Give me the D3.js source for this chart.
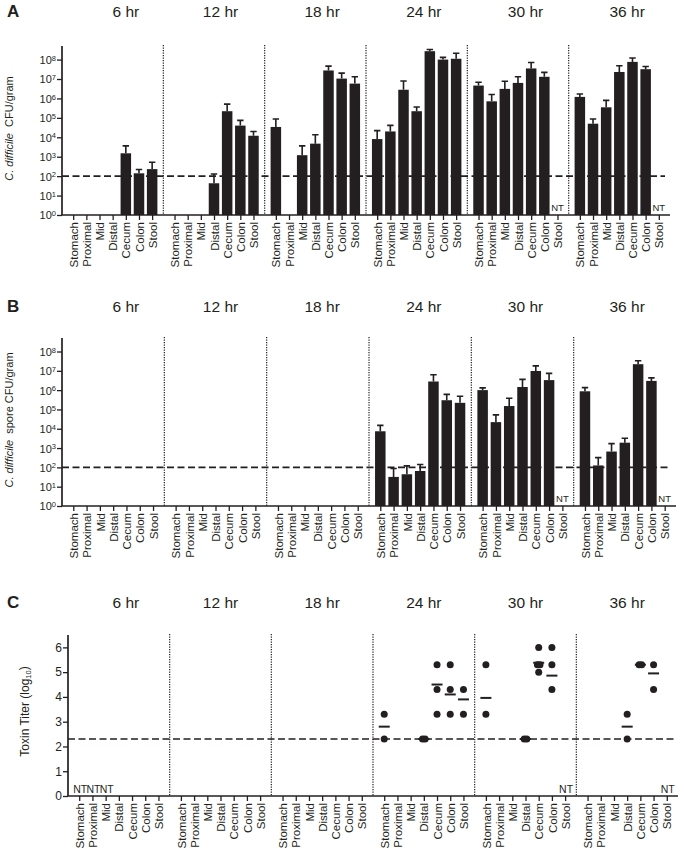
<!DOCTYPE html>
<html><head><meta charset="utf-8">
<script src="https://cdn.jsdelivr.net/npm/d3@7"></script>
<style>
body{margin:0;background:#fff}
svg{display:block}
text{font-family:"Liberation Sans",Arial,Helvetica,sans-serif;fill:#231f20}
</style>
</head><body>
<svg id="chart" width="680" height="851"></svg>
<script>
// ---------------- DATA ----------------
const times = ["6 hr","12 hr","18 hr","24 hr","30 hr","36 hr"];
const sites = ["Stomach","Proximal","Mid","Distal","Cecum","Colon","Stool"];
const logTickExps = [0,1,2,3,4,5,6,7,8];
const toxinTicks = [0,1,2,3,4,5,6];
const cfuLimit = 100;
const toxinLimit = 2.3;

// Panel A: C. difficile CFU/gram (mean and top of error bar); null = no bar
const cfuMean = [
  [null, null, null, null, 1.5e3, 1.4e2, 2.3e2],
  [null, null, null, 43, 2.2e5, 4.0e4, 1.2e4],
  [3.4e4, null, 1.2e3, 4.7e3, 2.75e7, 1.05e7, 5.8e6],
  [8.1e3, 2.0e4, 2.8e6, 2.2e5, 2.7e8, 1.0e8, 1.1e8],
  [4.6e6, 7.1e5, 3.1e6, 6.3e6, 3.5e7, 1.3e7, null],
  [1.2e6, 5.0e4, 3.5e5, 2.3e7, 7.6e7, 3.2e7, null]
];
const cfuUpper = [
  [null, null, null, null, 3.6e3, 2.2e2, 5.2e2],
  [null, null, null, 1.3e2, 5.1e5, 7.4e4, 2.0e4],
  [8.7e4, null, 3.6e3, 1.35e4, 4.6e7, 2.0e7, 1.3e7],
  [2.2e4, 4.1e4, 7.9e6, 3.6e5, 3.3e8, 1.3e8, 2.1e8],
  [6.8e6, 1.6e6, 7.6e6, 1.3e7, 7.1e7, 2.2e7, null],
  [1.7e6, 8.7e4, 7.9e5, 4.8e7, 1.2e8, 4.4e7, null]
];
const cfuNT = [["30 hr","Stool"],["36 hr","Stool"]];

// Panel B: C. difficile spore CFU/gram
const sporeMean = [
  [null, null, null, null, null, null, null],
  [null, null, null, null, null, null, null],
  [null, null, null, null, null, null, null],
  [7.4e3, 32, 44, 65, 2.8e6, 3.0e5, 2.2e5],
  [1.0e6, 2.2e4, 1.5e5, 1.45e6, 9.8e6, 3.3e6, null],
  [8.7e5, 1.26e2, 6.6e2, 1.9e3, 2.2e7, 3.0e6, null]
];
const sporeUpper = [
  [null, null, null, null, null, null, null],
  [null, null, null, null, null, null, null],
  [null, null, null, null, null, null, null],
  [1.5e4, 87, 1.2e2, 1.4e2, 6.3e6, 6.0e5, 4.8e5],
  [1.3e6, 5.2e4, 3.8e5, 3.6e6, 1.8e7, 7.4e6, null],
  [1.35e6, 3.2e2, 1.7e3, 3.2e3, 3.3e7, 4.3e6, null]
];
const sporeNT = [["30 hr","Stool"],["36 hr","Stool"]];

// Panel C: toxin titer (log10), individual animals and mean
const toxinTime  = ["24 hr","24 hr","24 hr","24 hr","24 hr","30 hr","30 hr","30 hr","30 hr","36 hr","36 hr","36 hr"];
const toxinSite  = ["Stomach","Distal","Cecum","Colon","Stool","Stomach","Distal","Cecum","Colon","Distal","Cecum","Colon"];
const toxinValues = [
  [3.3, 2.3], [2.3, 2.3], [5.3, 4.3, 3.3], [5.3, 4.3, 3.3], [4.3, 3.3],
  [5.3, 3.3], [2.3, 2.3], [6.0, 5.3, 5.3, 5.0], [6.0, 5.3, 4.3],
  [3.3, 2.3], [5.3, 5.3], [5.3, 4.3]
];
const toxinMean = [2.8, 2.3, 4.5, 4.1, 3.9, 3.96, 2.3, 5.38, 4.86, 2.8, 5.3, 4.95];
const toxinNT = [["6 hr","Stomach"],["6 hr","Proximal"],["6 hr","Mid"],["30 hr","Stool"],["36 hr","Stool"]];

// ---------------- DRAWING ----------------
const ink = "#231f20";
const svg = d3.select("#chart");

function groupScales(left, right){
  const x0 = d3.scaleBand().domain(times).range([left, right]);
  const xs = d3.scalePoint().domain(sites).range([0, x0.bandwidth()]).padding(0.85);
  return {x0, xs, pos: (t, s) => x0(t) + xs(s)};
}

// title positions shared by all panels
const titleScale = d3.scaleBand().domain(times).range([68, 678]);

function frame(opts, y, sc){
  const g = svg.append("g");
  const {top, bottom} = opts;
  g.append("text").attr("x", 7).attr("y", opts.titleY).attr("fill", ink)
    .attr("font-size", 17).attr("font-weight", "bold").text(opts.letter);
  g.selectAll(".ttl").data(times).enter().append("text")
    .attr("x", (t,i) => titleScale(t) + titleScale.bandwidth()/2 + (i === 0 ? 7 : 0))
    .attr("y", opts.titleY).attr("text-anchor", "middle").attr("fill", ink)
    .attr("font-size", 15.5).text(d => d);
  g.selectAll(".div").data(times.slice(1)).enter().append("line")
    .attr("x1", d => sc.x0(d)).attr("x2", d => sc.x0(d))
    .attr("y1", top - 1).attr("y2", bottom)
    .attr("stroke", ink).attr("stroke-width", 1.2).attr("stroke-dasharray", "1.2,1.3");
  times.forEach(t => {
    const ax = g.append("g").attr("transform", `translate(${sc.x0(t)},${bottom})`)
      .call(d3.axisBottom(sc.xs).tickSize(5).tickSizeOuter(0));
    ax.select(".domain").remove();
    ax.selectAll(".tick line").attr("stroke", ink).attr("stroke-width", 1.3);
    ax.selectAll(".tick text")
      .attr("transform", "rotate(-90)")
      .attr("text-anchor", "end").attr("x", -7).attr("y", 0).attr("dy", "0.36em")
      .attr("font-size", 11.5).attr("fill", ink)
      .style("font-family", '"Liberation Sans",Arial,sans-serif');
  });
  return g;
}

function axisLines(g, opts){
  g.append("line").attr("x1", opts.left).attr("x2", opts.right)
    .attr("y1", opts.bottom).attr("y2", opts.bottom)
    .attr("stroke", ink).attr("stroke-width", 1.7);
}

function barPanel(opts){
  const sc = groupScales(opts.left, opts.right);
  const y = d3.scaleLog().domain([1, 5e8]).range([opts.bottom, opts.top]);
  const g = frame(opts, y, sc);

  g.append("line").attr("x1", opts.left).attr("x2", opts.right - 5)
    .attr("y1", y(cfuLimit)).attr("y2", y(cfuLimit))
    .attr("stroke", ink).attr("stroke-width", 1.6).attr("stroke-dasharray", "7,3.5");

  const recs = [];
  times.forEach((t, gi) => sites.forEach((s, si) => {
    const m = opts.mean[gi][si];
    if (m !== null) recs.push({t, s, m, u: opts.upper[gi][si]});
  }));
  const bw = 10.5;
  g.selectAll(".bar").data(recs).enter().append("rect")
    .attr("x", d => sc.pos(d.t, d.s) - bw/2).attr("width", bw)
    .attr("y", d => y(d.m)).attr("height", d => opts.bottom - y(d.m))
    .attr("fill", ink);
  g.selectAll(".err").data(recs).enter().append("path")
    .attr("d", d => {
      const cx = sc.pos(d.t, d.s);
      return `M${cx},${y(d.m)}V${y(d.u)}M${cx-3.2},${y(d.u)}H${cx+3.2}`;
    })
    .attr("stroke", ink).attr("stroke-width", 1.6).attr("fill", "none");

  g.selectAll(".nt").data(opts.nt).enter().append("text")
    .attr("x", d => sc.pos(d[0], d[1])).attr("y", opts.bottom - 4)
    .attr("text-anchor", "middle").attr("font-size", 9.5).attr("fill", ink).text("NT");

  const ya = g.append("g").attr("transform", `translate(${opts.left},0)`)
    .call(d3.axisLeft(y).tickValues(logTickExps.map(k => Math.pow(10, k)))
      .tickSize(5).tickSizeOuter(0).tickFormat(""));
  ya.select(".domain").attr("stroke", ink).attr("stroke-width", 1.7)
    .attr("d", `M0,${opts.top}V${opts.bottom}`);
  ya.selectAll(".tick line").attr("stroke", ink).attr("stroke-width", 1.3);
  ya.selectAll(".tick").each(function(d){
    const k = Math.round(Math.log10(d));
    const tx = d3.select(this).append("text")
      .attr("x", -6).attr("dy", "0.36em").attr("text-anchor", "end")
      .attr("font-size", 11).attr("fill", ink);
    tx.append("tspan").text("10");
    tx.append("tspan").attr("dy", "-0.45em").attr("font-size", 7.5).text(k);
  });
  axisLines(g, opts);

  const yl = g.append("text")
    .attr("transform", `translate(${opts.labelX},${(opts.top + opts.bottom)/2 - 2}) rotate(-90)`)
    .attr("text-anchor", "middle").attr("font-size", 11).attr("fill", ink).style("white-space", "pre");
  yl.append("tspan").attr("font-style", "italic").text("C. difficile");
  yl.append("tspan").text(opts.labelRest);
}

function dotPanel(opts){
  const sc = groupScales(opts.left, opts.right);
  const y = d3.scaleLinear().domain([0, 6.5]).range([opts.bottom, opts.top]);
  const g = frame(opts, y, sc);

  g.append("line").attr("x1", opts.left).attr("x2", opts.right - 3)
    .attr("y1", y(toxinLimit)).attr("y2", y(toxinLimit))
    .attr("stroke", ink).attr("stroke-width", 1.6).attr("stroke-dasharray", "7,3.5");

  const pts = [];
  toxinValues.forEach((vals, i) => {
    const counts = d3.rollup(vals, v => v.length, v => v);
    const seen = new Map();
    vals.forEach(v => {
      const n = counts.get(v), k = seen.get(v) || 0;
      seen.set(v, k + 1);
      const off = n > 1 ? (k - (n - 1)/2) * 2.6 : 0;
      pts.push({x: sc.pos(toxinTime[i], toxinSite[i]) + off, v});
    });
  });
  g.selectAll(".pt").data(pts).enter().append("circle")
    .attr("cx", d => d.x).attr("cy", d => y(d.v)).attr("r", 3.5).attr("fill", ink);
  g.selectAll(".mean").data(toxinMean).enter().append("line")
    .attr("x1", (d,i) => sc.pos(toxinTime[i], toxinSite[i]) - 5.5)
    .attr("x2", (d,i) => sc.pos(toxinTime[i], toxinSite[i]) + 5.5)
    .attr("y1", d => y(d)).attr("y2", d => y(d))
    .attr("stroke", ink).attr("stroke-width", 2);

  g.selectAll(".nt").data(toxinNT).enter().append("text")
    .attr("x", d => sc.pos(d[0], d[1]) + 1).attr("y", opts.bottom - 3.5)
    .attr("text-anchor", "middle").attr("font-size", 10.5).attr("fill", ink).text("NT");

  const ya = g.append("g").attr("transform", `translate(${opts.left},0)`)
    .call(d3.axisLeft(y).tickValues(toxinTicks).tickSize(5).tickSizeOuter(0).tickFormat(d3.format("d")));
  ya.select(".domain").attr("stroke", ink).attr("stroke-width", 1.7)
    .attr("d", `M0,${opts.top}V${opts.bottom}`);
  ya.selectAll(".tick line").attr("stroke", ink).attr("stroke-width", 1.3);
  ya.selectAll(".tick text").attr("x", -6).attr("font-size", 12).attr("fill", ink)
    .style("font-family", '"Liberation Sans",Arial,sans-serif');
  axisLines(g, opts);

  const yl = g.append("text")
    .attr("transform", `translate(${opts.labelX},${(opts.top + opts.bottom)/2 - 4}) rotate(-90)`)
    .attr("text-anchor", "middle").attr("font-size", 12).attr("fill", ink);
  yl.append("tspan").text("Toxin Titer (log");
  yl.append("tspan").attr("dy", "0.3em").attr("font-size", 7.5).text("10");
  yl.append("tspan").attr("dy", "-0.3em").text(")");
}

barPanel({letter: "A", titleY: 17, top: 46, bottom: 215, left: 62, right: 670,
  mean: cfuMean, upper: cfuUpper, nt: cfuNT, labelX: 13, labelRest: "  CFU/gram"});
barPanel({letter: "B", titleY: 312, top: 338, bottom: 506, left: 62, right: 676,
  mean: sporeMean, upper: sporeUpper, nt: sporeNT, labelX: 13, labelRest: "  spore CFU/gram"});
dotPanel({letter: "C", titleY: 608, top: 635, bottom: 796, left: 68, right: 678, labelX: 29});
</script>
</body></html>
